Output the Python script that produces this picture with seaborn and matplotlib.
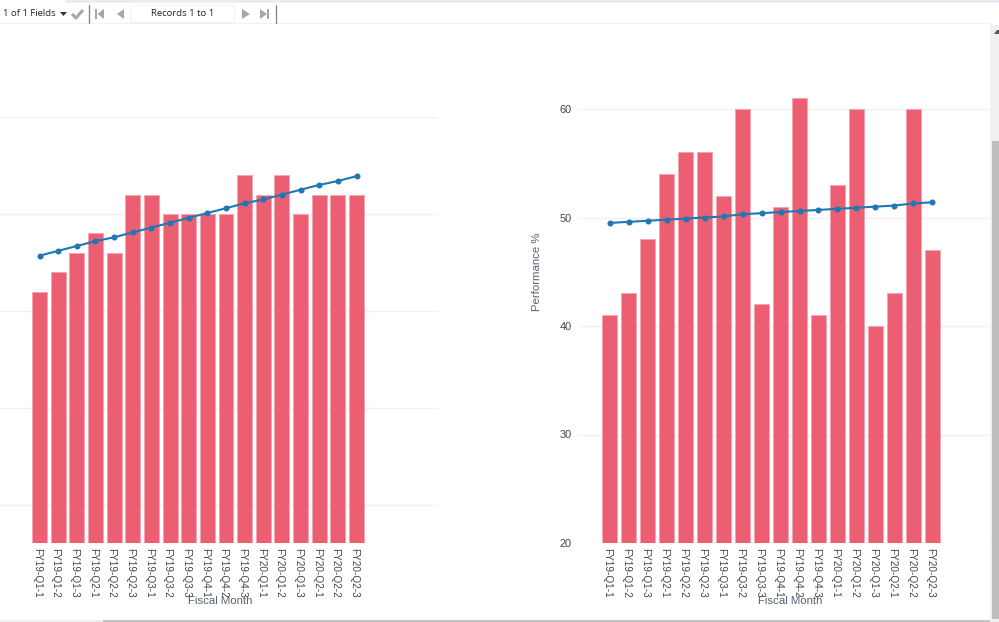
import matplotlib
matplotlib.use("Agg")
import matplotlib.pyplot as plt
from matplotlib.patches import Polygon, Rectangle
from matplotlib.transforms import ScaledTranslation
import numpy as np
import pandas as pd
import seaborn as sns

months = ["FY19-Q1-1", "FY19-Q1-2", "FY19-Q1-3", "FY19-Q2-1", "FY19-Q2-2", "FY19-Q2-3",
          "FY19-Q3-1", "FY19-Q3-2", "FY19-Q3-3", "FY19-Q4-1", "FY19-Q4-2", "FY19-Q4-3",
          "FY20-Q1-1", "FY20-Q1-2", "FY20-Q1-3", "FY20-Q2-1", "FY20-Q2-2", "FY20-Q2-3"]
left_values = [52, 54, 56, 58, 56, 62, 62, 60, 60, 60, 60, 64, 62, 64, 60, 62, 62, 62]
left_trend = [55.7, 56.2, 56.7, 57.2, 57.6, 58.1, 58.6, 59.1, 59.6, 60.1, 60.6, 61.1,
              61.5, 62.0, 62.5, 63.0, 63.4, 63.9]
right_values = [41, 43, 48, 54, 56, 56, 52, 60, 42, 51, 61, 41, 53, 60, 40, 43, 60, 47]
right_trend = [49.5, 49.6, 49.7, 49.8, 49.9, 50.0, 50.1, 50.3, 50.4, 50.5, 50.6, 50.7,
               50.8, 50.9, 51.0, 51.1, 51.3, 51.4]
left_ticks = [30, 40, 50, 60, 70]
right_ticks = [20, 30, 40, 50, 60]

BAR_COLOR = "#ec5e71"
LINE_COLOR = "#1f77b4"
TEXT_COLOR = "#444444"
W, H = 999, 622

sns.set_theme(style="white")
plt.rcParams["font.family"] = ["Liberation Sans", "DejaVu Sans"]


def add_axes_px(fig, x0, y_top, x1, y_bottom):
    return fig.add_axes([x0 / W, 1 - y_bottom / H, (x1 - x0) / W, (y_bottom - y_top) / H])


def draw_panel(ax, values, trend, ticks, ylim, xlim):
    df = pd.DataFrame({"Fiscal Month": months, "value": values, "trend": trend})
    sns.barplot(data=df, x="Fiscal Month", y="value", color=BAR_COLOR, saturation=1,
                width=0.8, edgecolor="#f7a3af", linewidth=0.6, ax=ax, zorder=2)
    sns.pointplot(data=df, x="Fiscal Month", y="trend", color=LINE_COLOR, markers="o",
                  markersize=3.2, linewidth=1.5, ax=ax, zorder=3)
    ax.set_xlim(*xlim)
    ax.set_ylim(*ylim)
    ax.set_yticks(ticks)
    ax.grid(axis="y", color="#f1f1f1", linewidth=1)
    ax.set_axisbelow(True)
    for spine in ax.spines.values():
        spine.set_visible(False)
    ax.patch.set_alpha(0)
    ax.tick_params(axis="x", length=0, pad=3.5)
    ax.tick_params(axis="y", length=0, pad=4.5)
    ax.set_xticks(range(len(months)))
    ax.set_xticklabels(months, rotation=270, ha="center", va="top",
                       fontsize=7.2, color=TEXT_COLOR)
    # rotated labels sit a little left of the bar centre
    shift = ScaledTranslation(-2.6 / 100, 0, fig.dpi_scale_trans)
    for label in ax.get_xticklabels():
        label.set_transform(label.get_transform() + shift)
    ax.set_xlabel("")
    ax.set_ylabel("")


fig = plt.figure(figsize=(W / 100, H / 100), dpi=100, facecolor="white")

ax1 = add_axes_px(fig, 0, 117, 438, 543)
draw_panel(ax1, left_values, left_trend, left_ticks,
           (26.08, 70), (-39.5 / 18.65, (438 - 39.5) / 18.65))
ax1.set_yticklabels([])

ax2 = add_axes_px(fig, 578, 87.3, 990, 543)
draw_panel(ax2, right_values, right_trend, right_ticks,
           (20, 62), (-31.5 / 19.0, (990 - 609.5) / 19.0))
ax2.set_yticklabels([str(t) for t in right_ticks], fontsize=7.9, color=TEXT_COLOR)

# window chrome and axis titles, in pixel coordinates
ui = fig.add_axes([0, 0, 1, 1], zorder=10)
ui.set_xlim(0, W)
ui.set_ylim(H, 0)
ui.axis("off")
ui.patch.set_alpha(0)

ui.text(220, 601, "Fiscal Month", ha="center", va="center", fontsize=8.2, color="#566272")
ui.text(790, 601, "Fiscal Month", ha="center", va="center", fontsize=8.2, color="#566272")
ui.text(537.5, 272, "Performance %", ha="center", va="center", rotation=90,
        fontsize=8.2, color="#566272")

# toolbar
ui.add_patch(Rectangle((65, 0), 934, 3, color="#e9eef6", lw=0))
ui.add_patch(Rectangle((0, 23), 990, 1, color="#f2f2f2", lw=0))
ui.text(3, 13.5, "1 of 1 Fields", ha="left", va="center", fontsize=6.8,
        family="Open Sans", color="#222222")
ui.text(182.5, 13.5, "Records 1 to 1", ha="center", va="center", fontsize=6.8,
        family="Open Sans", color="#222222")
ui.add_patch(Rectangle((130, 22), 104, 1.4, color="#bdbdbd", lw=0))
ui.add_patch(Rectangle((130, 5), 104, 17, facecolor="white", edgecolor="#f0f0f0", lw=0.6))
ui.add_patch(Polygon([(60, 12), (67, 12), (63.5, 16)], color="#333333", lw=0))
ui.plot([72, 76, 83], [14, 18, 10], color="#a8a8a8", lw=2.2, solid_capstyle="butt")
for x in (88.5, 275.5):
    ui.plot([x, x], [5, 23], color="#8a8a8a", lw=1)
icon = "#a6a6a6"
ui.add_patch(Rectangle((95, 9), 2, 10, color=icon, lw=0))
ui.add_patch(Polygon([(104, 9), (104, 19), (97.5, 14)], color=icon, lw=0))
ui.add_patch(Polygon([(124, 9), (124, 19), (117, 14)], color=icon, lw=0))
ui.add_patch(Polygon([(242, 9), (242, 19), (250, 14)], color=icon, lw=0))
ui.add_patch(Polygon([(260, 9), (260, 19), (267, 14)], color=icon, lw=0))
ui.add_patch(Rectangle((267, 9), 2, 10, color=icon, lw=0))

# scrollbars
ui.add_patch(Rectangle((990, 25), 9, 597, color="#f0f0f0", lw=0))
ui.add_patch(Rectangle((992, 141), 7, 478, color="#bdbdbd", lw=0))
ui.add_patch(Polygon([(994, 34), (999, 34), (999, 30), (996.5, 30)], color="#555555", lw=0))
ui.add_patch(Rectangle((0, 620), 103, 2, color="#f0f0f0", lw=0))
ui.add_patch(Rectangle((103, 620), 887, 2, color="#c4c4c4", lw=0))

fig.savefig("out.png", dpi=100)
